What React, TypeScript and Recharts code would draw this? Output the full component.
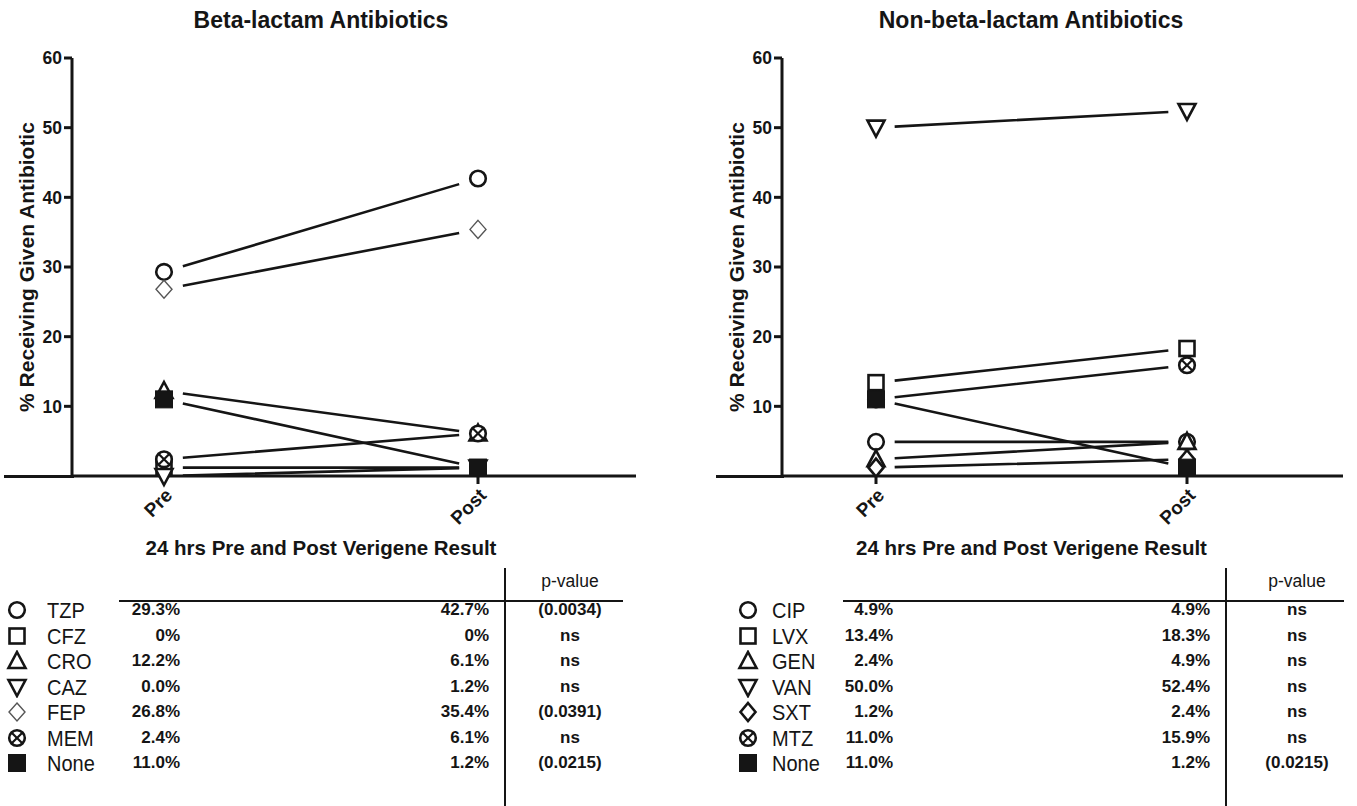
import React from "react"
import { LineChart, Line, XAxis, YAxis } from "recharts"

const FONT = "'Liberation Sans', Arial, sans-serif"
const INK = "#151515"

const categories = ["Pre", "Post"]
const yTicks = [10, 20, 30, 40, 50, 60]

// beta-lactam panel
const betaDrugs = ["TZP", "CFZ", "CRO", "CAZ", "FEP", "MEM", "None"]
const betaShapes = ["circle", "square", "triangle", "triangleDown", "diamondThin", "circleX", "squareFilled"]
const betaPre = [29.3, 1.2, 12.2, 0.0, 26.8, 2.4, 11.0]
const betaPost = [42.7, 1.2, 6.1, 1.2, 35.4, 6.1, 1.2]
const betaPreText = ["29.3%", "0%", "12.2%", "0.0%", "26.8%", "2.4%", "11.0%"]
const betaPostText = ["42.7%", "0%", "6.1%", "1.2%", "35.4%", "6.1%", "1.2%"]
const betaPValues = ["(0.0034)", "ns", "ns", "ns", "(0.0391)", "ns", "(0.0215)"]

// non-beta-lactam panel
const nonDrugs = ["CIP", "LVX", "GEN", "VAN", "SXT", "MTZ", "None"]
const nonShapes = ["circle", "square", "triangle", "triangleDown", "diamond", "circleX", "squareFilled"]
const nonPre = [4.9, 13.4, 2.4, 50.0, 1.2, 11.0, 11.0]
const nonPost = [4.9, 18.3, 4.9, 52.4, 2.4, 15.9, 1.2]
const nonPreText = ["4.9%", "13.4%", "2.4%", "50.0%", "1.2%", "11.0%", "11.0%"]
const nonPostText = ["4.9%", "18.3%", "4.9%", "52.4%", "2.4%", "15.9%", "1.2%"]
const nonPValues = ["ns", "ns", "ns", "ns", "ns", "ns", "(0.0215)"]

function buildRows(drugs: string[], pre: number[], post: number[]) {
  return categories.map((cat, ci) => {
    const row: any = { cat }
    drugs.forEach((d, i) => {
      row[d] = ci === 0 ? pre[i] : post[i]
    })
    return row
  })
}

function Marker({ cx, cy, shape }: { cx: number; cy: number; shape: string }) {
  const r = 9
  const sw = 2.6
  const common = { fill: "#fff", stroke: INK, strokeWidth: sw }
  switch (shape) {
    case "circle":
      return <circle cx={cx} cy={cy} r={r - 1.2} {...common} />
    case "square":
      return <rect x={cx - r + 1.5} y={cy - r + 1.5} width={2 * r - 3} height={2 * r - 3} {...common} />
    case "squareFilled":
      return <rect x={cx - r + 0.5} y={cy - r + 0.5} width={2 * r - 1} height={2 * r - 1} fill={INK} stroke={INK} strokeWidth={1} />
    case "triangle":
      return <polygon points={`${cx},${cy - r} ${cx + r - 0.5},${cy + r - 2} ${cx - r + 0.5},${cy + r - 2}`} {...common} />
    case "triangleDown":
      return <polygon points={`${cx},${cy + r} ${cx + r - 0.5},${cy - r + 2} ${cx - r + 0.5},${cy - r + 2}`} {...common} />
    case "diamond":
      return <polygon points={`${cx},${cy - r} ${cx + r - 1.5},${cy} ${cx},${cy + r} ${cx - r + 1.5},${cy}`} {...common} />
    case "diamondThin":
      return <polygon points={`${cx},${cy - r} ${cx + r - 1},${cy} ${cx},${cy + r} ${cx - r + 1},${cy}`} fill="#fff" stroke="#555" strokeWidth={1.4} />
    case "circleX": {
      const d = (r - 2) * 0.72
      return (
        <g>
          <circle cx={cx} cy={cy} r={r - 1.2} {...common} />
          <line x1={cx - d} y1={cy - d} x2={cx + d} y2={cy + d} stroke={INK} strokeWidth={2.2} />
          <line x1={cx - d} y1={cy + d} x2={cx + d} y2={cy - d} stroke={INK} strokeWidth={2.2} />
        </g>
      )
    }
    default:
      return null
  }
}

const XTick = (props: any) => {
  const { x, y, payload } = props
  const px = x + 5
  const py = y + 6
  return (
    <text
      x={px}
      y={py}
      transform={`rotate(-45, ${px}, ${py})`}
      textAnchor="end"
      dominantBaseline="central"
      fontFamily={FONT}
      fontWeight={700}
      fontSize={19}
      fill={INK}
    >
      {payload.value}
    </text>
  )
}

interface PanelProps {
  drugs: string[]
  shapes: string[]
  pre: number[]
  post: number[]
  left: number
  width: number
  yAxisWidth: number
  marginRight: number
  padLeft: number
  padRight: number
  yLabelX: number
}

function Panel(p: PanelProps) {
  const data = buildRows(p.drugs, p.pre, p.post)
  const axisStyle = { stroke: INK, strokeWidth: 3 }
  return (
    <div style={{ position: "absolute", left: p.left, top: 0 }}>
      <LineChart width={p.width} height={560} data={data} margin={{ top: 58, right: p.marginRight, left: 0, bottom: 24 }}>
        <XAxis
          dataKey="cat"
          padding={{ left: p.padLeft, right: p.padRight }}
          axisLine={axisStyle}
          tickLine={axisStyle}
          tickSize={8}
          tick={<XTick />}
          height={60}
          interval={0}
          label={(lp: any) => {
            const vb = lp.viewBox
            const w = vb.width - p.padLeft - p.padRight
            const cx = vb.x + p.padLeft + w / 2
            return (
              <text x={cx} y={vb.y + 71} textAnchor="middle" dominantBaseline="central" fontFamily={FONT} fontWeight={700} fontSize={20.5} fill={INK}>
                24 hrs Pre and Post Verigene Result
              </text>
            )
          }}
        />
        <YAxis
          domain={[0, 60]}
          ticks={yTicks}
          width={p.yAxisWidth}
          axisLine={axisStyle}
          tickLine={axisStyle}
          tickSize={8}
          tick={{ fontSize: 17.5, fontWeight: 700, fill: INK, fontFamily: FONT }}
          label={(lp: any) => {
            const vb = lp.viewBox
            const x = vb.x + p.yLabelX
            const y = vb.y + vb.height / 2
            return (
              <text x={x} y={y} transform={`rotate(-90, ${x}, ${y})`} textAnchor="middle" dominantBaseline="central" fontFamily={FONT} fontWeight={700} fontSize={21} fill={INK}>
                % Receiving Given Antibiotic
              </text>
            )
          }}
        />
        {p.drugs.map((d, i) => (
          <Line
            key={d}
            dataKey={d}
            type="linear"
            stroke={INK}
            strokeWidth={2.6}
            strokeDasharray="0 6 88 6"
            pathLength={100}
            isAnimationActive={false}
            dot={(dp: any) => <Marker key={`${d}-${dp.index}`} cx={dp.cx} cy={dp.cy} shape={p.shapes[i]} />}
            activeDot={false}
          />
        ))}
      </LineChart>
    </div>
  )
}

interface TableProps {
  drugs: string[]
  shapes: string[]
  preText: string[]
  postText: string[]
  pValues: string[]
  markerX: number
  labelX: number
  preRight: number
  postRight: number
  vLineX: number
  pCenter: number
  hLineFrom: number
  hLineTo: number
}

const ROW_TOP = 610
const ROW_STEP = 25.5

function StatTable(t: TableProps) {
  const valueStyle: React.CSSProperties = {
    position: "absolute",
    fontFamily: FONT,
    fontWeight: 700,
    fontSize: 17,
    lineHeight: "20px",
    color: INK,
  }
  return (
    <>
      <div style={{ position: "absolute", left: t.vLineX - 1, top: 568, width: 2, height: 238, background: INK }} />
      <div style={{ position: "absolute", left: t.hLineFrom, top: 600, width: t.hLineTo - t.hLineFrom, height: 2, background: INK }} />
      <div style={{ ...valueStyle, left: t.pCenter - 60, width: 120, textAlign: "center", top: 571, fontWeight: 400, fontSize: 17.5 }}>p-value</div>
      {t.drugs.map((d, i) => {
        const cy = ROW_TOP + i * ROW_STEP
        return (
          <React.Fragment key={d}>
            <svg style={{ position: "absolute", left: t.markerX - 11, top: cy - 11 }} width={22} height={22}>
              <Marker cx={11} cy={11} shape={t.shapes[i]} />
            </svg>
            <div style={{ ...valueStyle, left: t.labelX, top: cy - 11, fontWeight: 400, fontSize: 20, lineHeight: "22px", transform: "scaleY(1.08)" }}>{d}</div>
            <div style={{ ...valueStyle, left: t.preRight - 90, width: 90, textAlign: "right", top: cy - 10 }}>{t.preText[i]}</div>
            <div style={{ ...valueStyle, left: t.postRight - 90, width: 90, textAlign: "right", top: cy - 10 }}>{t.postText[i]}</div>
            <div style={{ ...valueStyle, left: t.pCenter - 60, width: 120, textAlign: "center", top: cy - 10 }}>{t.pValues[i]}</div>
          </React.Fragment>
        )
      })}
    </>
  )
}

const titleStyle: React.CSSProperties = {
  position: "absolute",
  top: 7,
  width: 440,
  textAlign: "center",
  fontFamily: FONT,
  fontWeight: 700,
  fontSize: 23,
  lineHeight: "26px",
  color: INK,
}

export default function App() {
  return (
    <div style={{ position: "absolute", left: 0, top: 0, width: 1357, height: 806, background: "#fff", overflow: "hidden" }}>
      <div style={{ ...titleStyle, left: 321 - 220 }}>Beta-lactam Antibiotics</div>
      <div style={{ ...titleStyle, left: 1031 - 220 }}>Non-beta-lactam Antibiotics</div>

      {/* x axis runs past the y axis on the left, as in the original */}
      <div style={{ position: "absolute", left: 4, top: 474.5, width: 70, height: 3, background: INK }} />
      <div style={{ position: "absolute", left: 716, top: 474.5, width: 68, height: 3, background: INK }} />

      <Panel
        drugs={betaDrugs}
        shapes={betaShapes}
        pre={betaPre}
        post={betaPost}
        left={0}
        width={680}
        yAxisWidth={72}
        marginRight={44}
        padLeft={92}
        padRight={158}
        yLabelX={26}
      />
      <Panel
        drugs={nonDrugs}
        shapes={nonShapes}
        pre={nonPre}
        post={nonPost}
        left={700}
        width={657}
        yAxisWidth={82}
        marginRight={14}
        padLeft={94}
        padRight={156}
        yLabelX={36}
      />

      <StatTable
        drugs={betaDrugs}
        shapes={betaShapes}
        preText={betaPreText}
        postText={betaPostText}
        pValues={betaPValues}
        markerX={17}
        labelX={47}
        preRight={180}
        postRight={489}
        vLineX={505}
        pCenter={570}
        hLineFrom={119}
        hLineTo={623}
      />
      <StatTable
        drugs={nonDrugs}
        shapes={nonShapes}
        preText={nonPreText}
        postText={nonPostText}
        pValues={nonPValues}
        markerX={748}
        labelX={772}
        preRight={893}
        postRight={1210}
        vLineX={1226}
        pCenter={1297}
        hLineFrom={843}
        hLineTo={1344}
      />
    </div>
  )
}
